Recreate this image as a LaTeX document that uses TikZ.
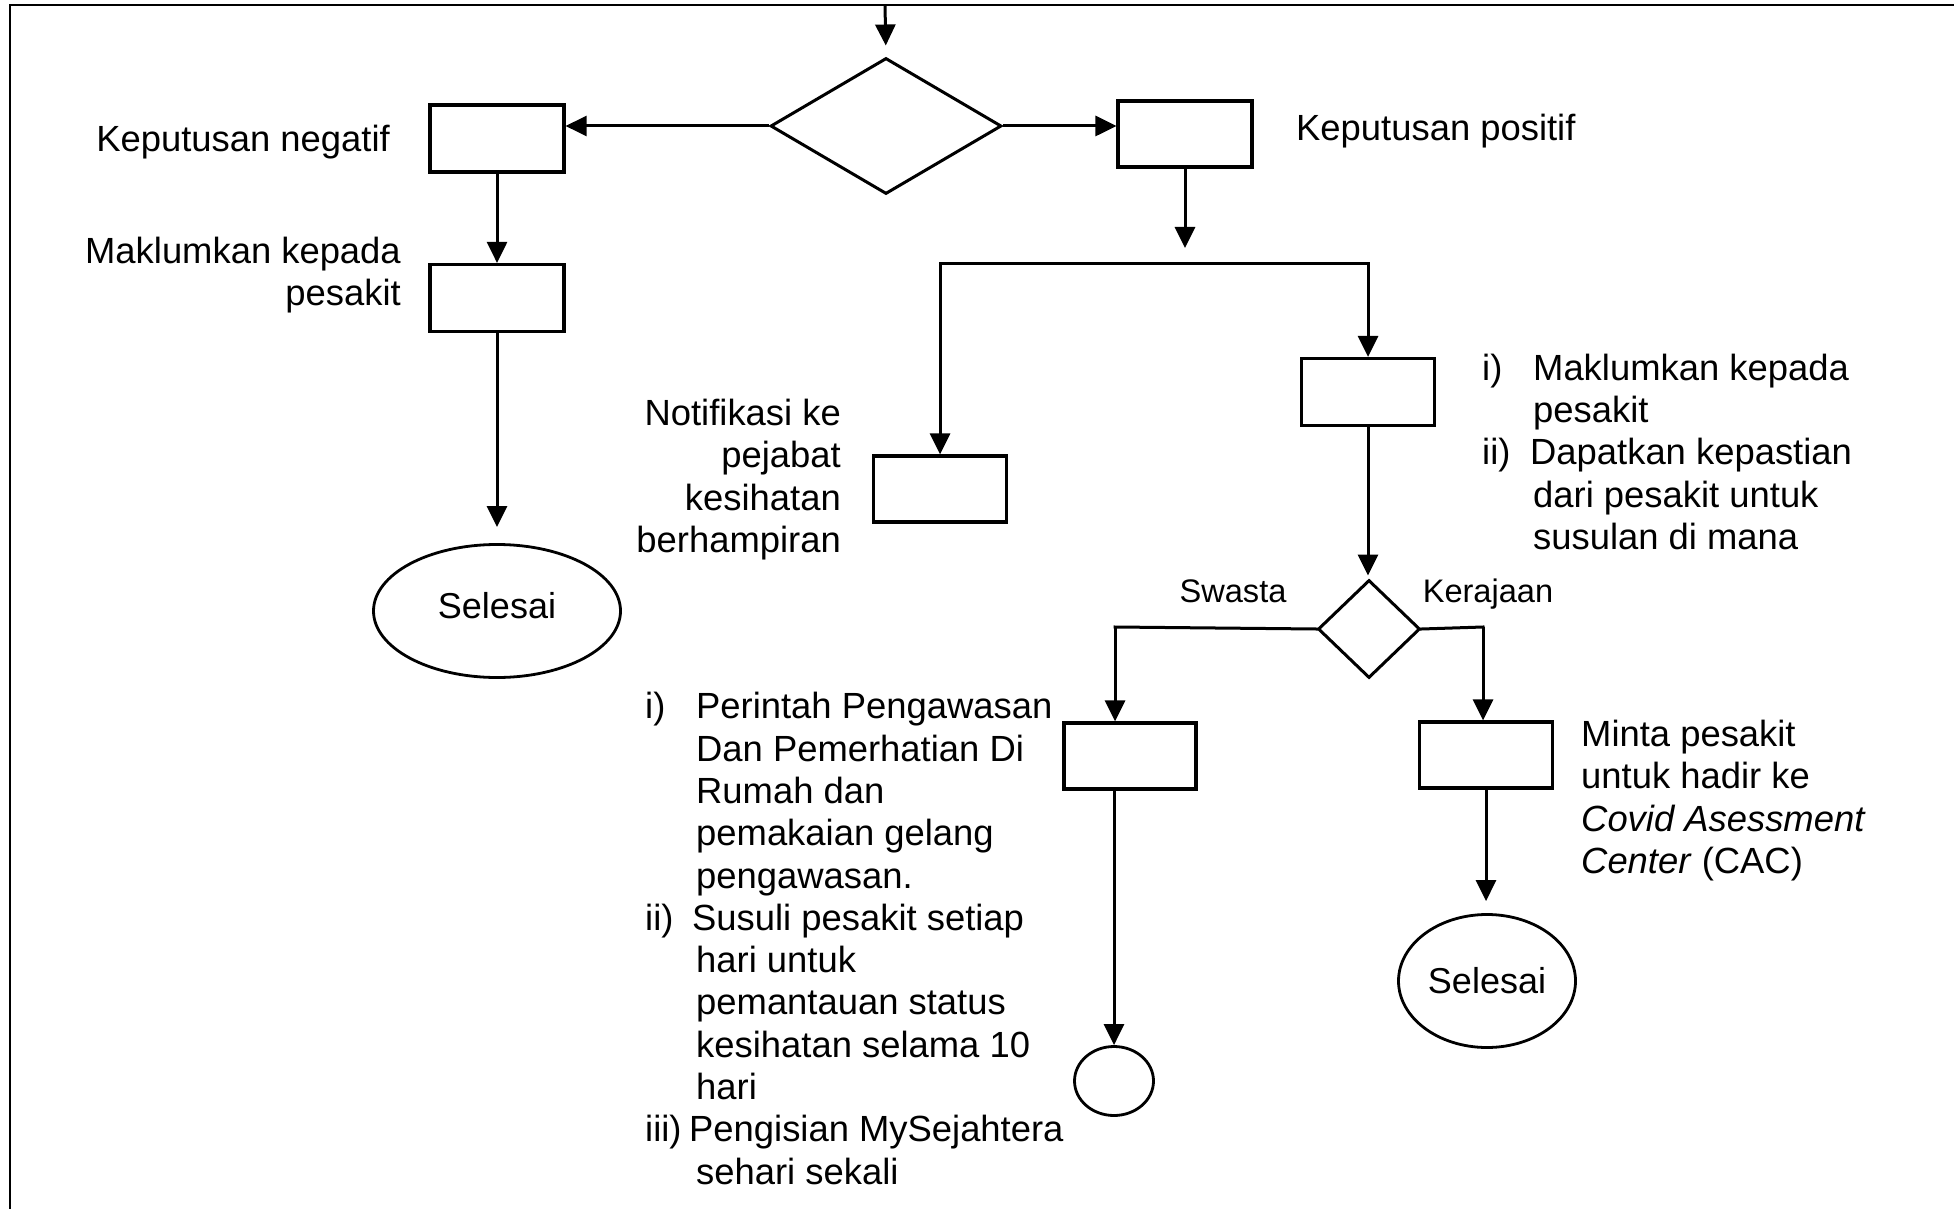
\documentclass[tikz,border=0pt]{standalone}
\usepackage{fontspec}
\setmainfont{Liberation Sans}
\usetikzlibrary{shapes.geometric,arrows.meta}
\newcommand{\lind}{\hspace*{51pt}}
\begin{document}
\begin{tikzpicture}[x=1pt,y=-1pt,
  boxn/.style={draw,line width=3.2pt,minimum width=134pt,minimum height=67pt,inner sep=0pt},
  dian/.style={draw,diamond,line width=3pt,inner sep=0pt},
  endn/.style={draw,ellipse,line width=2.8pt,inner sep=0pt,font=\fontsize{36}{42}\selectfont},
  conn/.style={line width=3pt},
  arr/.style={conn,-{Triangle[length=21pt,width=20pt]}},
  lbl/.style={inner sep=0pt,font=\fontsize{36.4}{42.3}\selectfont},
  smalllbl/.style={inner sep=0pt,font=\fontsize{32.6}{38}\selectfont},
  framel/.style={line width=2.5pt}
]
\useasboundingbox (0,0) rectangle (1954,1209);
\draw[framel] (10,1209) -- (10,5) -- (1954,5);

% nodes
\coordinate (top) at (885,5);
\node[dian,minimum width=231pt,minimum height=136pt] (d1) at (886,126) {};
\node[boxn] (neg) at (497,138.5) {};
\node[boxn,minimum height=66pt] (pos) at (1185,134) {};
\node[boxn] (mak) at (497,298) {};
\node[endn,minimum width=247pt,minimum height=133pt,text depth=12pt] (sel1) at (497,611) {Selesai};
\node[boxn,minimum width=133pt,minimum height=66pt] (notif) at (940,489) {};
\node[boxn,minimum width=133pt] (dap) at (1368,392) {};
\node[dian,minimum width=102pt,minimum height=98pt] (d2) at (1369,629) {};
\node[boxn,minimum width=132pt,minimum height=66pt] (sw) at (1130,756) {};
\node[boxn,minimum width=133pt,minimum height=66pt] (ker) at (1486,755) {};
\node[endn,minimum width=177pt,minimum height=133pt] (sel2) at (1487,981) {Selesai};
\node[endn,minimum width=79pt,minimum height=69pt] (circ) at (1114,1081) {};

\coordinate (pj) at (1185,248);
\coordinate (bl) at (940,263);
\coordinate (br) at (1368,263);
\coordinate (swc) at (1115,627);
\coordinate (kc) at (1483,627);

% connectors
\draw[arr,shorten >=11pt] (top) -- (d1.north);
\draw[arr] (d1.west) -- (neg.east |- d1.west);
\draw[arr] (d1.east) -- (pos.west |- d1.east);
\draw[arr] (neg.south) -- (mak.north);
\draw[arr,shorten >=16pt] (mak.south) -- (sel1.north);
\draw[arr] (pos.south) -- (pj);
\draw[conn,line cap=rect] (bl) -- (br);
\draw[arr] (bl) -- (notif.north);
\draw[arr] (br) -- (dap.north);
\draw[arr,shorten >=3pt] (dap.south) -- (dap.south |- d2.north);
\draw[conn,line cap=rect] (d2.west) -- (swc);
\draw[arr] (swc) -- (swc |- sw.north);
\draw[conn,line cap=rect] (d2.east) -- (kc);
\draw[arr] (kc) -- (kc |- ker.north);
\draw[arr,shorten >=12pt] (ker.south) -- (ker.south |- sel2.north);
\draw[arr] (circ.north |- sw.south) -- (circ.north);

% labels
\node[lbl,anchor=east] (tneg) at (390,142) {Keputusan negatif};
\node[lbl,anchor=west] (tpos) at (1296,131) {Keputusan positif};
\node[lbl,anchor=east] (tmak) at (401,276) {\begin{tabular}{@{}r@{}}Maklumkan kepada\\pesakit\end{tabular}};
\node[lbl,anchor=east] (tnotif) at (841,480.5) {\begin{tabular}{@{}r@{}}Notifikasi ke\\pejabat\\kesihatan\\berhampiran\end{tabular}};
\node[lbl,anchor=west] (tdap) at (1482,456.5) {\begin{tabular}{@{}l@{}}
\makebox[51pt][l]{i)}Maklumkan kepada\\
\lind pesakit\\
\makebox[48pt][l]{ii)}Dapatkan kepastian\\
\lind dari pesakit untuk\\
\lind susulan di mana
\end{tabular}};
\node[smalllbl] (tsw) at (1233,591) {Swasta};
\node[smalllbl] (tker) at (1488,594) {Kerajaan};
\node[lbl,anchor=west] (tminta) at (1581,801.5) {\begin{tabular}{@{}l@{}}
Minta pesakit\\
untuk hadir ke\\
\textit{Covid Asessment}\\
\textit{Center} (CAC)
\end{tabular}};
\node[lbl,anchor=west] (tlist) at (645,943) {\begin{tabular}{@{}l@{}}
\makebox[51pt][l]{i)}Perintah Pengawasan\\
\lind Dan Pemerhatian Di\\
\lind Rumah dan\\
\lind pemakaian gelang\\
\lind pengawasan.\\
\makebox[47pt][l]{ii)}Susuli pesakit setiap\\
\lind hari untuk\\
\lind pemantauan status\\
\lind kesihatan selama 10\\
\lind hari\\
\makebox[44pt][l]{iii)}Pengisian MySejahtera\\
\lind sehari sekali
\end{tabular}};
\end{tikzpicture}
\end{document}
